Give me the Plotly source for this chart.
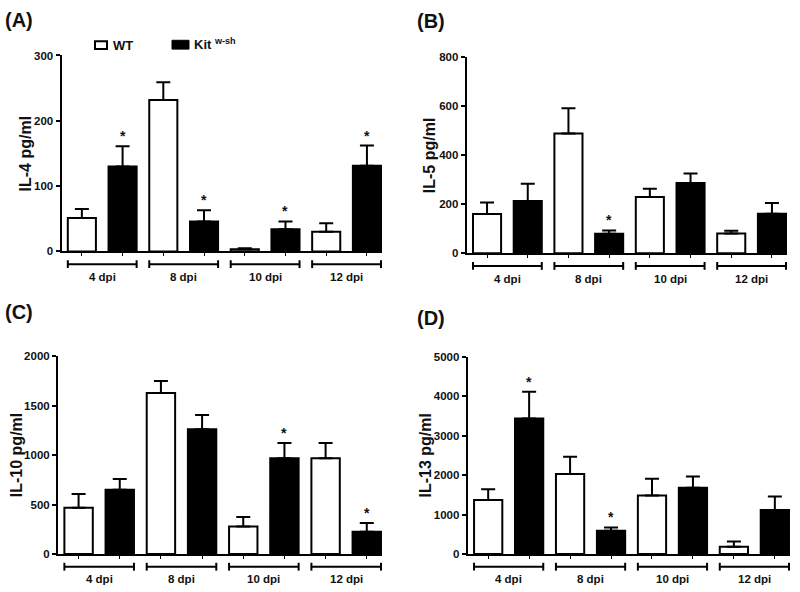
import plotly.graph_objects as go

W, H = 800, 592

groups = ["4 dpi", "8 dpi", "10 dpi", "12 dpi"]

il4_wt = [51, 232, 3.5, 30]
il4_wt_err = [14, 27, 1.5, 13]
il4_kit = [130, 46, 34, 131]
il4_kit_err = [31, 17, 12, 31]
il4_star = [True, True, True, True]

il5_wt = [160, 489, 229, 80]
il5_wt_err = [47, 103, 34, 12]
il5_kit = [213, 79, 287, 161]
il5_kit_err = [70, 14, 38, 44]
il5_star = [False, True, False, False]

il10_wt = [469, 1630, 278, 969]
il10_wt_err = [139, 122, 96, 155]
il10_kit = [651, 1263, 969, 225]
il10_kit_err = [109, 145, 155, 89]
il10_star = [False, False, True, True]

il13_wt = [1368, 2031, 1484, 182]
il13_wt_err = [274, 439, 423, 133]
il13_kit = [3440, 587, 1683, 1119]
il13_kit_err = [680, 85, 282, 340]
il13_star = [True, True, False, False]

FONT = "Liberation Sans"
BW = 0.69

panels = [
    dict(key="", wt=il4_wt, wte=il4_wt_err, kit=il4_kit, kite=il4_kit_err, star=il4_star,
         ymax=300, dtick=100, title="IL-4 pg/ml", px=(61.5, 382), py=(250.5, 50.5),
         tx=25, label="(A)", lpos=(3, 14)),
    dict(key="2", wt=il5_wt, wte=il5_wt_err, kit=il5_kit, kite=il5_kit_err, star=il5_star,
         ymax=800, dtick=200, title="IL-5 pg/ml", px=(466.7, 787), py=(252.3, 52.3),
         tx=429, label="(B)", lpos=(415, 15)),
    dict(key="3", wt=il10_wt, wte=il10_wt_err, kit=il10_kit, kite=il10_kit_err, star=il10_star,
         ymax=2000, dtick=500, title="IL-10 pg/ml", px=(58, 382), py=(559.3, 357.7),
         tx=16, label="(C)", lpos=(3, 312)),
    dict(key="4", wt=il13_wt, wte=il13_wt_err, kit=il13_kit, kite=il13_kit_err, star=il13_star,
         ymax=5000, dtick=1000, title="IL-13 pg/ml", px=(467.7, 790), py=(559.3, 358.3),
         tx=425, label="(D)", lpos=(415, 318)),
]

fig = go.Figure()
shapes = []
annotations = []
layout = {}

for p in panels:
    k = p["key"]
    xa, ya = "x" + k, "y" + k
    n = len(groups)
    xwt = [2 * i for i in range(n)]
    xkit = [2 * i + 1 for i in range(n)]
    fig.add_trace(go.Bar(
        x=xwt, y=p["wt"], width=BW, xaxis=xa, yaxis=ya, name="WT", showlegend=False,
        marker=dict(color="white", line=dict(color="black", width=2)),
        error_y=dict(type="data", symmetric=False, array=p["wte"], arrayminus=[0] * n,
                     color="black", thickness=2, width=7)))
    fig.add_trace(go.Bar(
        x=xkit, y=p["kit"], width=BW, xaxis=xa, yaxis=ya, name="Kit w-sh", showlegend=False,
        marker=dict(color="black", line=dict(color="black", width=2)),
        error_y=dict(type="data", symmetric=False, array=p["kite"], arrayminus=[0] * n,
                     color="black", thickness=2, width=7)))
    hpx = p["py"][0] - p["py"][1]
    layout["xaxis" + k] = dict(
        domain=[p["px"][0] / W, p["px"][1] / W], anchor=ya, range=[-0.5, 7.37],
        showline=True, linecolor="black", linewidth=2, ticks="outside",
        tickvals=list(range(2 * n)), ticklen=3, tickwidth=1, tickcolor="black",
        showticklabels=False, showgrid=False, zeroline=False, fixedrange=True)
    layout["yaxis" + k] = dict(
        domain=[1 - p["py"][0] / H, 1 - p["py"][1] / H], anchor=xa, range=[0, p["ymax"]],
        dtick=p["dtick"], showline=True, linecolor="black", linewidth=2, ticks="outside",
        ticklen=4, tickwidth=1.5, tickcolor="black", showgrid=False, zeroline=False,
        tickfont=dict(family=FONT, size=11.5, color="#111", weight="bold"), fixedrange=True)
    yb = -13 / hpx
    cap = 4 / hpx
    for i, g in enumerate(groups):
        x0, x1 = 2 * i - BW / 2, 2 * i + 1 + BW / 2
        shapes.append(dict(type="line", xref=xa, yref=ya + " domain", x0=x0, x1=x1, y0=yb, y1=yb,
                           line=dict(color="black", width=2)))
        for xx in (x0, x1):
            shapes.append(dict(type="line", xref=xa, yref=ya + " domain", x0=xx, x1=xx,
                               y0=yb - cap, y1=yb + cap, line=dict(color="black", width=2)))
        annotations.append(dict(xref=xa, yref=ya + " domain", x=2 * i + 0.5, y=-26 / hpx,
                                text="<b>" + g + "</b>", showarrow=False, yanchor="middle",
                                font=dict(family=FONT, size=11.5, color="#111")))
        if p["star"][i]:
            annotations.append(dict(xref=xa, yref=ya, x=2 * i + 1, y=p["kit"][i] + p["kite"][i],
                                    text="<b>*</b>", showarrow=False, yanchor="bottom", yshift=0,
                                    font=dict(family=FONT, size=14, color="#111")))
    annotations.append(dict(xref="paper", yref=ya + " domain", x=p["tx"] / W, y=0.5,
                            text="<b>" + p["title"] + "</b>", textangle=-90, showarrow=False,
                            xanchor="center", yanchor="middle",
                            font=dict(family=FONT, size=16, color="#111")))
    annotations.append(dict(xref="paper", yref="paper", x=p["lpos"][0] / W, y=1 - p["lpos"][1] / H,
                            text="<b>" + p["label"] + "</b>", showarrow=False,
                            xanchor="left", yanchor="middle",
                            font=dict(family=FONT, size=20, color="#111")))

# legend (panel A)
shapes.append(dict(type="rect", xref="paper", yref="paper", x0=95 / W, x1=107 / W,
                   y0=1 - 44 / H, y1=1 - 36 / H, line=dict(color="black", width=2), fillcolor="white"))
shapes.append(dict(type="rect", xref="paper", yref="paper", x0=172 / W, x1=189 / W,
                   y0=1 - 44 / H, y1=1 - 35 / H, line=dict(color="black", width=1), fillcolor="black"))
annotations.append(dict(xref="paper", yref="paper", x=111 / W, y=1 - 40 / H, text="<b>WT</b>",
                        showarrow=False, xanchor="left", yanchor="middle",
                        font=dict(family=FONT, size=13, color="#111")))
annotations.append(dict(xref="paper", yref="paper", x=192 / W, y=1 - 39 / H,
                        text="<b>Kit <sup>w-sh</sup></b>",
                        showarrow=False, xanchor="left", yanchor="middle",
                        font=dict(family=FONT, size=13, color="#111")))

fig.update_layout(width=W, height=H, margin=dict(l=0, r=0, t=0, b=0),
                  paper_bgcolor="white", plot_bgcolor="white", showlegend=False,
                  barmode="overlay", shapes=shapes, annotations=annotations, **layout)

fig.write_html("out.html", config={"displayModeBar": False},
               post_script="document.body.style.margin='0';document.body.style.overflow='hidden';")
